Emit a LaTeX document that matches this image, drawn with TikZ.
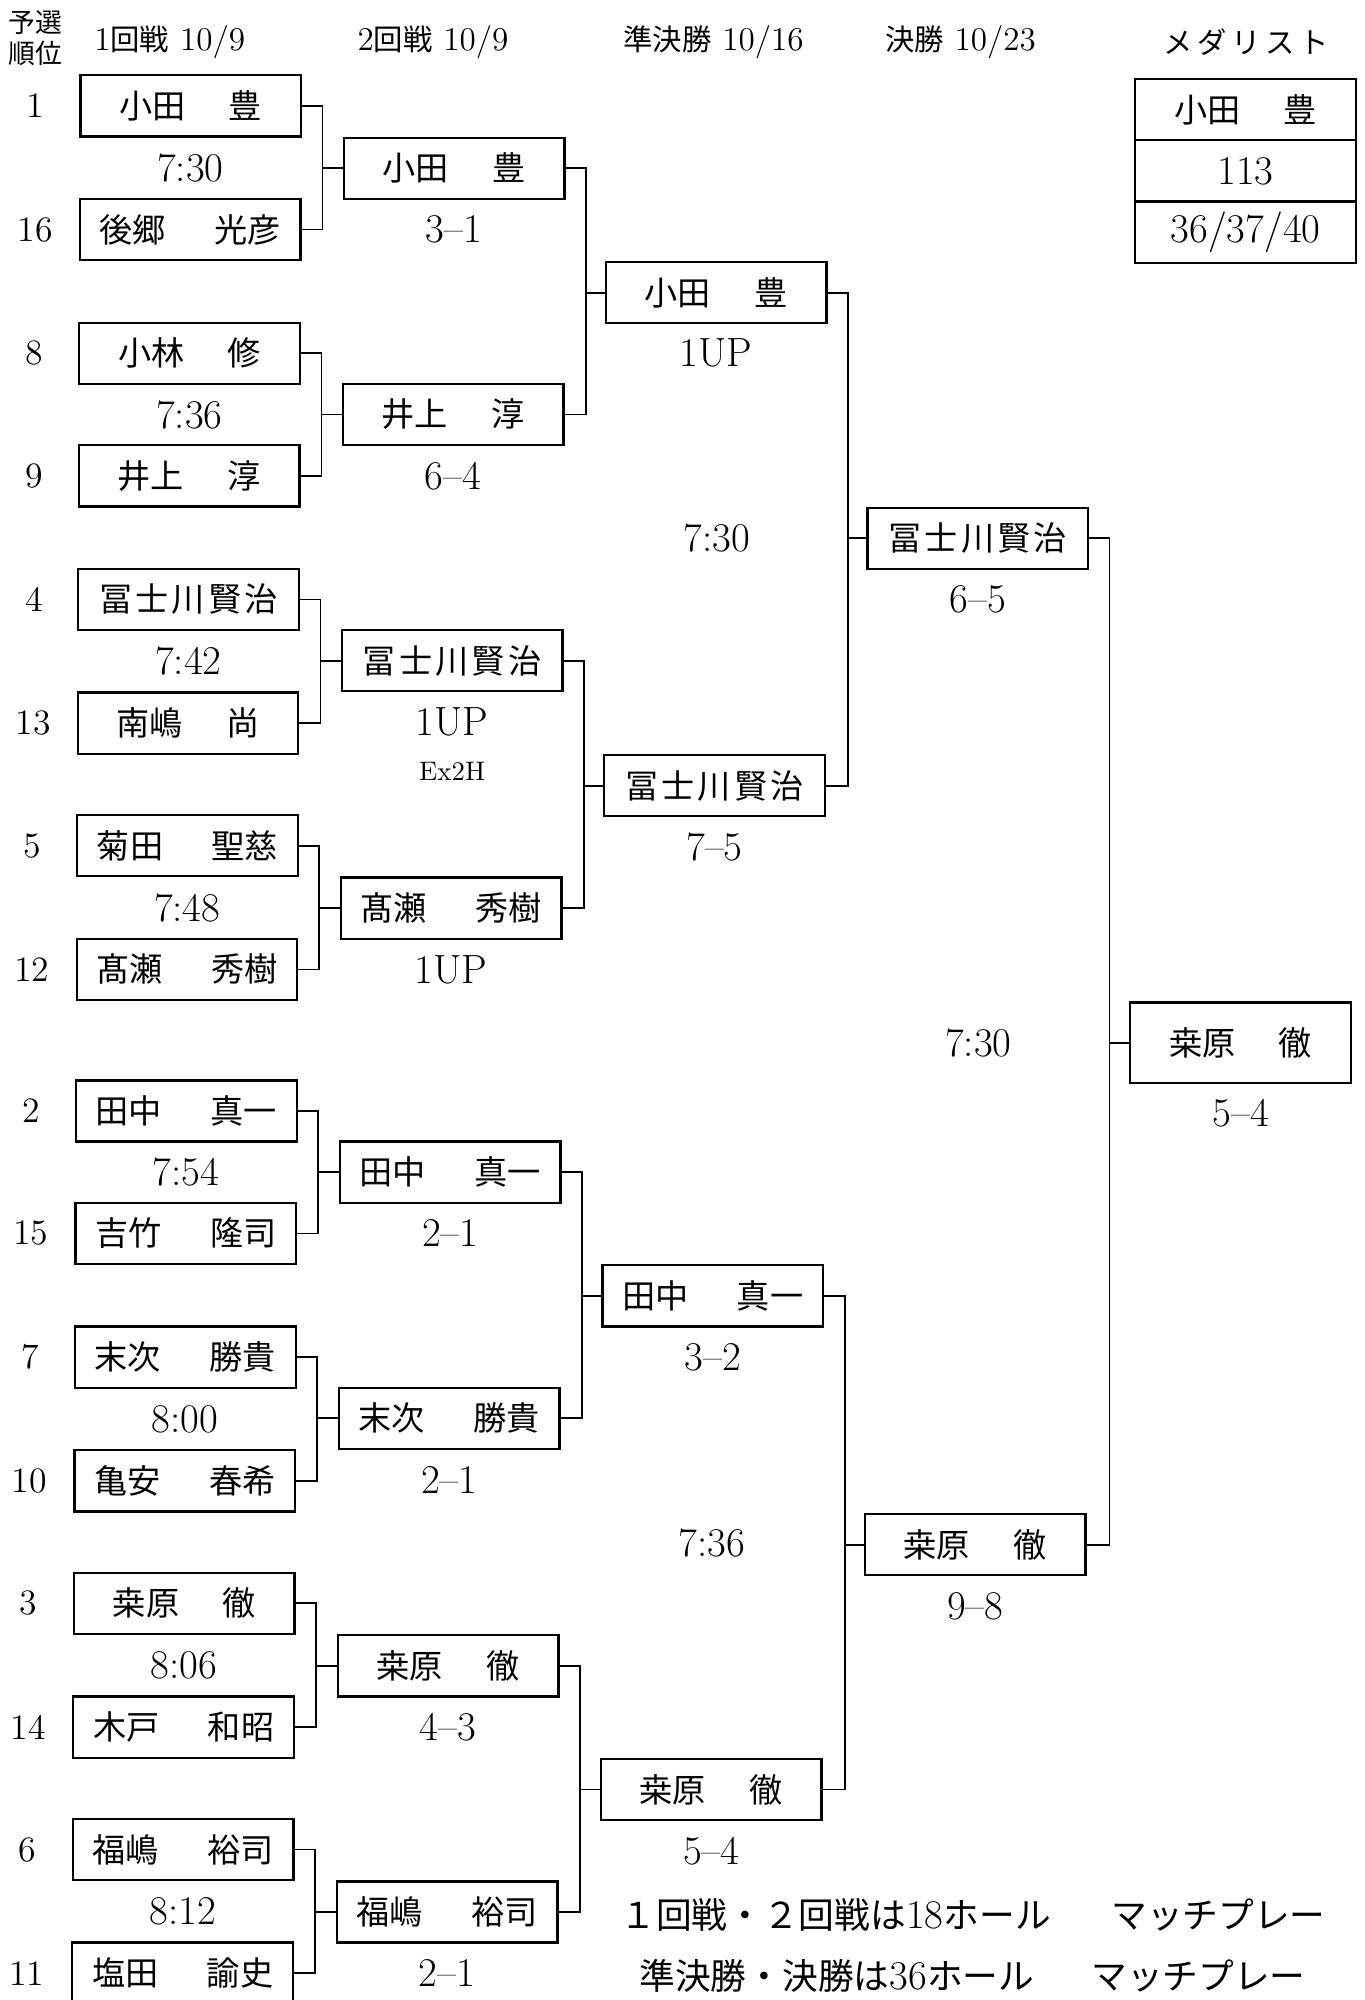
\documentclass[tikz,border=0pt]{standalone}
\usepackage{fontspec}
\newfontfamily\jp{Noto Sans CJK JP}
\newcommand\nmA[2]{\makebox[56pt]{#1\hfill #2}}
\newcommand\nmB[2]{\makebox[71pt]{#1\hfill #2}}
\newcommand\nmC{\makebox[70pt]{冨\hfill 士\hfill 川\hfill 賢\hfill 治}}
\newcommand\brk[3]{\draw[link] (#1.east) -- ++(16,0) coordinate (t) |- (#2.east); \draw[link] (t |- #3.west) -- (#3.west);}
\begin{document}
\begin{tikzpicture}[x=0.5pt,y=-0.5pt,
  box/.style={draw, line width=0.9pt, minimum width=86.5pt, minimum height=24pt, inner sep=0pt, font=\jp\fontsize{13}{13}\selectfont},
  link/.style={line width=0.7pt},
  num/.style={inner sep=0pt, font=\fontsize{16}{16}\selectfont},
  small/.style={inner sep=0pt, font=\fontsize{10.5}{10.5}\selectfont},
  seed/.style={inner sep=0pt, font=\fontsize{14}{14}\selectfont},
  hdr/.style={inner sep=0pt, font=\fontsize{13}{13}\selectfont},
  note/.style={inner sep=0pt, anchor=west, font=\jp\fontsize{14}{14}\selectfont}]
\useasboundingbox (0,0) rectangle (1070,1568);
% headers
\node[inner sep=0pt, font=\jp\fontsize{10.5}{10.5}\selectfont] (h0a) at (28,18) {予選};
\node[inner sep=0pt, font=\jp\fontsize{10.5}{10.5}\selectfont] (h0b) at (28,42) {順位};
\node[hdr] (h1) at (133,33) {1{\jp\fontsize{11.5}{11.5}\selectfont 回戦} 10/9};
\node[hdr] (h2) at (339.5,33) {2{\jp\fontsize{11.5}{11.5}\selectfont 回戦} 10/9};
\node[hdr] (h3) at (559.5,33) {{\jp\fontsize{11.5}{11.5}\selectfont 準決勝} 10/16};
\node[hdr] (h4) at (753,33) {{\jp\fontsize{11.5}{11.5}\selectfont 決勝} 10/23};
\node[inner sep=0pt, font=\jp\fontsize{11.5}{11.5}\selectfont] (h5) at (977,33) {メ\,ダ\,リ\,ス\,ト};
% round 1
\node[box] (a1)  at (149.5,83)  {\nmA{小田}{豊}};
\node[box] (a2)  at (149.1,180) {\nmB{後郷}{光彦}};
\node[box] (a3)  at (148.7,277) {\nmA{小林}{修}};
\node[box] (a4)  at (148.3,373) {\nmA{井上}{淳}};
\node[box] (a5)  at (147.8,470) {\nmC};
\node[box] (a6)  at (147.4,567) {\nmA{南嶋}{尚}};
\node[box] (a7)  at (147.0,663) {\nmB{菊田}{聖慈}};
\node[box] (a8)  at (146.6,760) {\nmB{髙瀬}{秀樹}};
\node[box] (a9)  at (146.1,871) {\nmB{田中}{真一}};
\node[box] (a10) at (145.7,967) {\nmB{吉竹}{隆司}};
\node[box] (a11) at (145.3,1064) {\nmB{末次}{勝貴}};
\node[box] (a12) at (144.9,1161) {\nmB{亀安}{春希}};
\node[box] (a13) at (144.5,1257) {\nmA{桒原}{徹}};
\node[box] (a14) at (144.0,1354) {\nmB{木戸}{和昭}};
\node[box] (a15) at (143.6,1450) {\nmB{福嶋}{裕司}};
\node[box] (a16) at (143.2,1547) {\nmB{塩田}{諭史}};
% seeds
\node[seed] (s1)  at (28,83) {1};
\node[seed] (s2)  at (27.5,180) {16};
\node[seed] (s3)  at (27,277) {8};
\node[seed] (s4)  at (27,373) {9};
\node[seed] (s5)  at (26.5,470) {4};
\node[seed] (s6)  at (26,567) {13};
\node[seed] (s7)  at (25.5,663) {5};
\node[seed] (s8)  at (25,760) {12};
\node[seed] (s9)  at (24.5,871) {2};
\node[seed] (s10) at (24,967) {15};
\node[seed] (s11) at (23.5,1064) {7};
\node[seed] (s12) at (23,1161) {10};
\node[seed] (s13) at (22.5,1257) {3};
\node[seed] (s14) at (22,1354) {14};
\node[seed] (s15) at (21.5,1450) {6};
\node[seed] (s16) at (21,1547) {11};
% round 1 times
\node[num] (t1) at (149.3,131.5) {7:30};
\node[num] (t2) at (148.5,325) {7:36};
\node[num] (t3) at (147.6,518.5) {7:42};
\node[num] (t4) at (146.8,711.5) {7:48};
\node[num] (t5) at (145.9,919) {7:54};
\node[num] (t6) at (145.1,1112.5) {8:00};
\node[num] (t7) at (144.2,1305.5) {8:06};
\node[num] (t8) at (143.4,1498.5) {8:12};
% round 2
\node[box] (b1) at (356,132)   {\nmA{小田}{豊}};
\node[box] (b2) at (355.2,325) {\nmA{井上}{淳}};
\node[box] (b3) at (354.5,518) {\nmC};
\node[box] (b4) at (353.7,712) {\nmB{髙瀬}{秀樹}};
\node[box] (b5) at (352.9,919) {\nmB{田中}{真一}};
\node[box] (b6) at (352.1,1112) {\nmB{末次}{勝貴}};
\node[box] (b7) at (351.3,1306) {\nmA{桒原}{徹}};
\node[box] (b8) at (350.5,1499) {\nmB{福嶋}{裕司}};
\node[num] (c1) at (356,180)   {3--1};
\node[num] (c2) at (355.2,373) {6--4};
\node[num] (c3) at (354.5,566) {1UP};
\node[small] (c3x) at (354.5,605) {Ex2H};
\node[num] (c4) at (353.7,760) {1UP};
\node[num] (c5) at (352.9,967) {2--1};
\node[num] (c6) at (352.1,1160) {2--1};
\node[num] (c7) at (351.3,1354) {4--3};
\node[num] (c8) at (350.5,1547) {2--1};
% round 3
\node[box] (d1) at (561.5,229.5) {\nmA{小田}{豊}};
\node[box] (d2) at (560.2,616)   {\nmC};
\node[box] (d3) at (558.8,1016)  {\nmB{田中}{真一}};
\node[box] (d4) at (557.5,1403)  {\nmA{桒原}{徹}};
\node[num] (e1) at (561.5,277) {1UP};
\node[num] (e2) at (560.2,664) {7--5};
\node[num] (e3) at (558.8,1064) {3--2};
\node[num] (e4) at (557.5,1451) {5--4};
\node[num] (tt1) at (562,422) {7:30};
\node[num] (tt2) at (558,1210) {7:36};
% final four
\node[box] (f1) at (766.5,422)  {\nmC};
\node[box] (f2) at (764.5,1211) {\nmA{桒原}{徹}};
\node[num] (g1) at (766.5,470) {6--5};
\node[num] (g2) at (764.5,1259) {9--8};
\node[num] (tt3) at (767,818) {7:30};
% champion
\node[box, minimum height=31.5pt] (w) at (972.5,817.5) {\nmA{桒原}{徹}};
\node[num] (ws) at (973,873) {5--4};
% medalist
\node[box] (m1) at (976.5,86)  {\nmA{小田}{豊}};
\node[box, font=\fontsize{16}{16}\selectfont] (m2) at (976.5,134) {113};
\node[box, font=\fontsize{16}{16}\selectfont] (m3) at (976.5,182) {36/37/40};
% connectors
\brk{a1}{a2}{b1}
\brk{a3}{a4}{b2}
\brk{a5}{a6}{b3}
\brk{a7}{a8}{b4}
\brk{a9}{a10}{b5}
\brk{a11}{a12}{b6}
\brk{a13}{a14}{b7}
\brk{a15}{a16}{b8}
\brk{b1}{b2}{d1}
\brk{b3}{b4}{d2}
\brk{b5}{b6}{d3}
\brk{b7}{b8}{d4}
\brk{d1}{d2}{f1}
\brk{d3}{d4}{f2}
\brk{f1}{f2}{w}
% notes
\node[note] (n1) at (486,1501) {１回戦・２回戦は{\rmfamily\fontsize{16}{16}\selectfont 18}ホール\hspace{1.7em}マッチプレー};
\node[note] (n2) at (501,1549) {準決勝・決勝は{\rmfamily\fontsize{16}{16}\selectfont 36}ホール\hspace{1.6em}マッチプレー};
\end{tikzpicture}
\end{document}
